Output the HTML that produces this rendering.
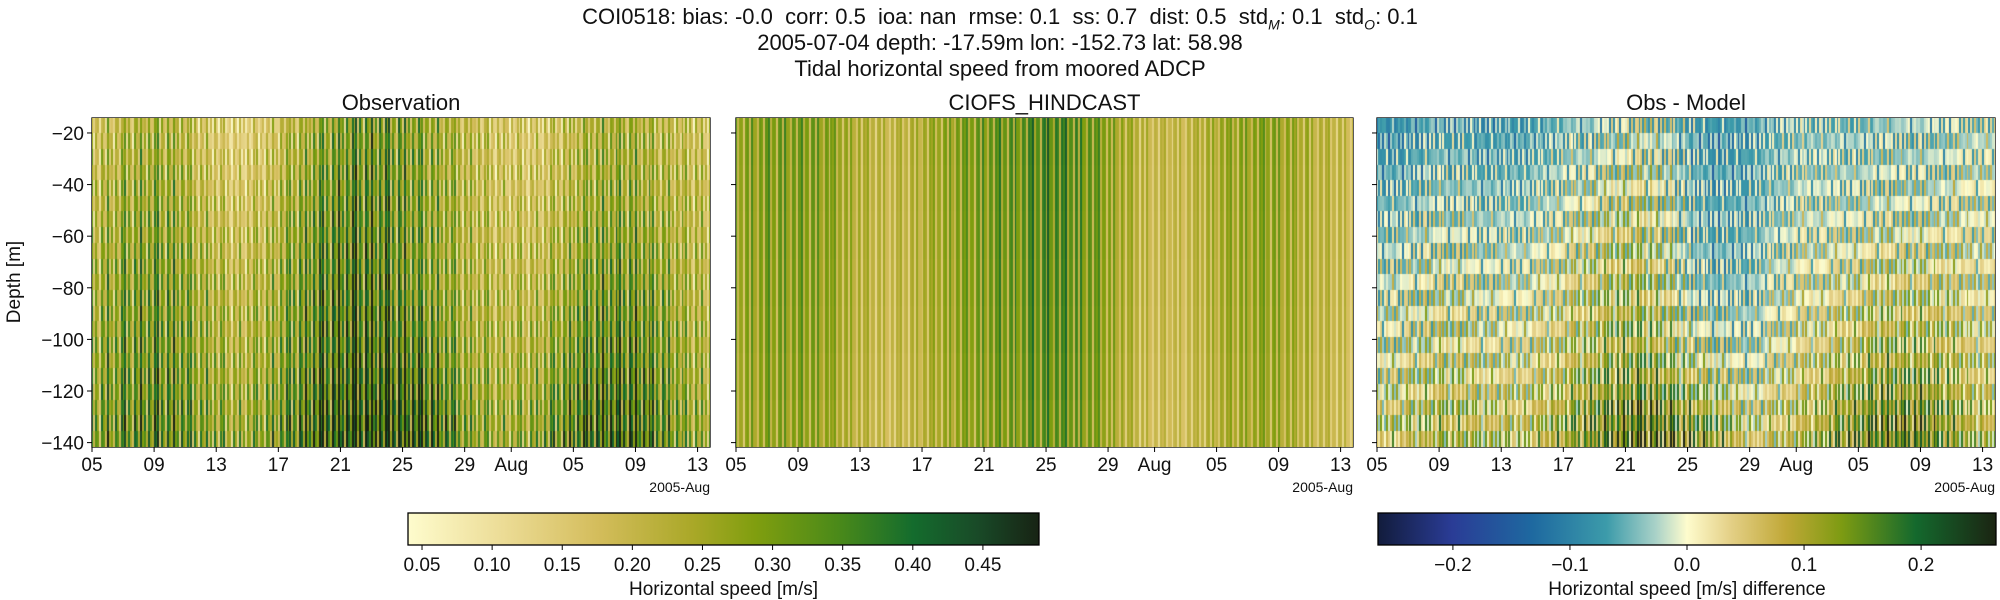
<!DOCTYPE html>
<html><head><meta charset="utf-8">
<style>
body{margin:0;background:#fff;width:2000px;height:600px;overflow:hidden;font-family:"Liberation Sans","DejaVu Sans",sans-serif;}
#root{position:relative;width:2000px;height:600px;}
.t{position:absolute;white-space:nowrap;color:#111;}
canvas{position:absolute;}
</style></head>
<body>
<div id="root">
<div class="t" style="left:0;width:2000px;text-align:center;top:4px;font-size:22px;">COI0518: bias: -0.0&nbsp; corr: 0.5&nbsp; ioa: nan&nbsp; rmse: 0.1&nbsp; ss: 0.7&nbsp; dist: 0.5&nbsp; std<sub style="font-size:14px;font-style:italic">M</sub>: 0.1&nbsp; std<sub style="font-size:14px;font-style:italic">O</sub>: 0.1</div>
<div class="t" style="left:0;width:2000px;text-align:center;top:30px;font-size:22px;">2005-07-04 depth: -17.59m lon: -152.73 lat: 58.98</div>
<div class="t" style="left:0;width:2000px;text-align:center;top:56px;font-size:22px;">Tidal horizontal speed from moored ADCP</div>
<svg id="axes" width="2000" height="600" style="position:absolute;left:0;top:0"></svg>
</div>
<script>
// ---- data (daily values, Jul 05 .. Aug 13, 2005) ----
const days = ["Jul 05","Jul 06","Jul 07","Jul 08","Jul 09","Jul 10","Jul 11","Jul 12","Jul 13","Jul 14","Jul 15","Jul 16","Jul 17","Jul 18","Jul 19","Jul 20","Jul 21","Jul 22","Jul 23","Jul 24","Jul 25","Jul 26","Jul 27","Jul 28","Jul 29","Jul 30","Jul 31","Aug 01","Aug 02","Aug 03","Aug 04","Aug 05","Aug 06","Aug 07","Aug 08","Aug 09","Aug 10","Aug 11","Aug 12","Aug 13"];
const modelSpeed = [0.25,0.26,0.27,0.27,0.27,0.26,0.24,0.22,0.2,0.19,0.19,0.2,0.22,0.24,0.26,0.27,0.28,0.29,0.3,0.31,0.32,0.31,0.29,0.27,0.24,0.21,0.19,0.18,0.18,0.19,0.21,0.23,0.24,0.25,0.25,0.24,0.22,0.2,0.19,0.18];
const obsTop = [0.18,0.19,0.21,0.22,0.22,0.21,0.18,0.16,0.14,0.13,0.14,0.16,0.19,0.21,0.24,0.26,0.28,0.29,0.29,0.28,0.27,0.25,0.23,0.21,0.19,0.17,0.16,0.15,0.15,0.16,0.18,0.2,0.22,0.23,0.23,0.22,0.2,0.19,0.18,0.17];
const obsUpper = [0.21,0.22,0.24,0.25,0.25,0.24,0.21,0.19,0.17,0.16,0.17,0.19,0.22,0.25,0.28,0.3,0.31,0.32,0.31,0.3,0.28,0.26,0.24,0.22,0.2,0.18,0.17,0.17,0.17,0.18,0.2,0.22,0.24,0.25,0.25,0.24,0.22,0.21,0.2,0.19];
const obsMid = [0.24,0.25,0.27,0.28,0.28,0.27,0.24,0.22,0.2,0.19,0.2,0.22,0.25,0.28,0.31,0.33,0.34,0.34,0.33,0.31,0.29,0.27,0.25,0.23,0.21,0.2,0.19,0.19,0.19,0.21,0.23,0.26,0.28,0.29,0.29,0.28,0.26,0.23,0.21,0.2];
const obsLower = [0.26,0.27,0.29,0.3,0.3,0.29,0.26,0.24,0.22,0.21,0.22,0.24,0.27,0.3,0.33,0.35,0.36,0.37,0.36,0.35,0.34,0.32,0.29,0.26,0.23,0.22,0.21,0.21,0.22,0.24,0.27,0.3,0.32,0.33,0.33,0.32,0.29,0.26,0.23,0.22];
const obsBottom = [0.29,0.3,0.32,0.33,0.33,0.32,0.29,0.27,0.25,0.24,0.25,0.28,0.31,0.35,0.38,0.41,0.43,0.44,0.44,0.43,0.42,0.4,0.36,0.31,0.27,0.25,0.24,0.24,0.26,0.29,0.32,0.35,0.38,0.39,0.39,0.37,0.33,0.29,0.26,0.24];
const modelDepthFactor = [1.04,1.03,1.02,1.01,1.0,0.98,0.96];
const obsTidalPhase = [1.45,0.6,1.2,0.9,0.5,1.35,1.05,0.7,1.5,0.8,1.1,0.55,1.3,0.95,0.65,1.4,1.0];
const modelTidalPhase = [1.3,0.75,1.05,1.05,0.6,1.15,1.2,0.7,1.3,0.95,0.95,0.7,1.15,1.1,0.65,1.2,1.1];
const xTickLabels = ["05","09","13","17","21","25","29","Aug","05","09","13"];
const xTickDays = [0,4,8,12,16,20,24,27,31,35,39];
const yTickLabels = [-20,-40,-60,-80,-100,-120,-140];
const speedTicks = [0.05,0.10,0.15,0.20,0.25,0.30,0.35,0.40,0.45];
const diffTicks = [-0.2,-0.1,0.0,0.1,0.2];

// ---- layout ----
const panels = [{x0:92,x1:710,title:"Observation",name:"observation"},{x0:736,x1:1353,title:"CIOFS_HINDCAST",name:"ciofs-hindcast"},{x0:1377,x1:1995,title:"Obs - Model",name:"obs-minus-model"}];
const Y0=118,Y1=447, D0=-14.2, D1=-141.7, NROWS=21, NDAYS=39.8;
const ySc = d => Y0 + (D0-d)/(D0-D1)*(Y1-Y0);
const xSc = (p,day) => p.x0 + day/NDAYS*(p.x1-p.x0);

function lerpStops(stops,t){t=Math.max(0,Math.min(1,t));for(let i=1;i<stops.length;i++){if(t<=stops[i][0]){const a=stops[i-1],b=stops[i];const f=(t-a[0])/(b[0]-a[0]);const c1=a[1],c2=b[1];return `rgb(${Math.round(c1[0]+(c2[0]-c1[0])*f)},${Math.round(c1[1]+(c2[1]-c1[1])*f)},${Math.round(c1[2]+(c2[2]-c1[2])*f)})`;}}return 'rgb(0,0,0)';}
const speedStops=[[0,[254,252,205]],[0.15,[236,220,150]],[0.3,[212,189,92]],[0.45,[170,168,40]],[0.55,[128,158,15]],[0.68,[75,138,25]],[0.8,[20,108,45]],[0.9,[25,75,40]],[1,[23,35,20]]];
const deltaStops=[[0,[18,28,60]],[0.12,[42,60,150]],[0.25,[30,105,160]],[0.37,[60,155,170]],[0.45,[170,210,200]],[0.5,[254,252,205]],[0.57,[228,208,135]],[0.66,[192,168,55]],[0.75,[125,155,18]],[0.87,[20,105,45]],[1,[27,36,18]]];
const SMIN=0.04,SMAX=0.49,DLIM=0.264;
const speedColor=v=>lerpStops(speedStops,(v-SMIN)/(SMAX-SMIN));
const diffColor=v=>lerpStops(deltaStops,(v+DLIM)/(2*DLIM));

const obsBands=[obsTop,obsUpper,obsMid,obsLower,obsBottom];
const SUB=8;
function obsVal(row,day,k){
  const pos=row*4/(NROWS-1);const b=Math.min(3,Math.floor(pos));const f=pos-b;
  const base=obsBands[b][day]*(1-f)+obsBands[b+1][day]*f;
  const g=day*SUB+k;
  const ph=obsTidalPhase[g%obsTidalPhase.length];
  const r=(((row*7+g*3)%5)-2)*0.022;
  return base*ph+r;}
function modVal(row,day,k){const f=modelDepthFactor[Math.min(6,Math.floor(row*7/NROWS))];const g=day*SUB+k;return modelSpeed[day]*f*modelTidalPhase[g%modelTidalPhase.length];}

const root=document.getElementById('root');
panels.forEach((p,pi)=>{
  const cv=document.createElement('canvas');
  
  
  cv.width=p.x1-p.x0;cv.height=Y1-Y0;cv.style.left=p.x0+'px';cv.style.top=Y0+'px';
  const ctx=cv.getContext('2d');
  for(let d=0;d<days.length;d++){
    for(let k=0;k<SUB;k++){
      const dayF=d+k/SUB; const xa=xSc(p,dayF)-p.x0, xb=xSc(p,dayF+1/SUB)-p.x0;
      for(let r=0;r<NROWS;r++){
        const dep0=D0-r*(D0-D1)/NROWS, dep1=D0-(r+1)*(D0-D1)/NROWS;
        let c;
        if(pi===0)c=speedColor(obsVal(r,d,k));
        else if(pi===1)c=speedColor(modVal(r,d,k));
        else c=diffColor(obsVal(r,d,k)-modVal(r,d,k));
        ctx.fillStyle=c;
        ctx.fillRect(Math.floor(xa),Math.floor(ySc(dep0)-Y0),Math.ceil(xb-xa)+1,Math.ceil(ySc(dep1)-ySc(dep0))+1);
      }
    }
  }
  root.appendChild(cv);
});

// ---- axes SVG ----
const svg=document.getElementById('axes');const NS='http://www.w3.org/2000/svg';
function mk(tag,attrs,parent){const e=document.createElementNS(NS,tag);for(const k in attrs)e.setAttribute(k,attrs[k]);(parent||svg).appendChild(e);return e;}
panels.forEach((p,pi)=>{
  const g=mk('g',{});
  
  
  const fr=mk('rect',{x:p.x0,y:Y0,width:p.x1-p.x0,height:Y1-Y0,fill:'none',stroke:'#000','stroke-width':1.3},g);
  
  
  const tt=mk('text',{x:(p.x0+p.x1)/2,y:110,'text-anchor':'middle','font-size':22,fill:'#111'},g);tt.textContent=p.title;
  
  
  xTickLabels.forEach((lab,i)=>{const x=xSc(p,xTickDays[i]);mk('line',{x1:x,x2:x,y1:Y1,y2:Y1+5,stroke:'#000'},g);
    const t=mk('text',{x:x,y:Y1+24,'text-anchor':'middle','font-size':19,fill:'#111'},g);t.textContent=lab;
    
    });
  const ot=mk('text',{x:p.x1,y:Y1+45,'text-anchor':'end','font-size':14,fill:'#111'},g);ot.textContent='2005-Aug';
  
  
  yTickLabels.forEach(v=>{const y=ySc(v);mk('line',{x1:p.x0-5,x2:p.x0,y1:y,y2:y,stroke:'#000'},g);
    if(pi===0){const t=mk('text',{x:p.x0-8,y:y+7,'text-anchor':'end','font-size':19,fill:'#111'},g);t.textContent='\u2212'+Math.abs(v);
    
    }});
});
const yl=mk('text',{x:0,y:0,transform:'translate(20,282) rotate(-90)','text-anchor':'middle','font-size':19,fill:'#111'});yl.textContent='Depth [m]';



// colorbars
function colorbar(x0,x1,stops,vmin,vmax,ticks,fmt,label,name){
  const y0=513,y1=545;const id='g'+name;
  const defs=mk('defs',{});const lg=mk('linearGradient',{id:id,x1:0,x2:1,y1:0,y2:0},defs);
  stops.forEach(s=>mk('stop',{offset:s[0],'stop-color':`rgb(${s[1].join(',')})`},lg));
  const r=mk('rect',{x:x0,y:y0,width:x1-x0,height:y1-y0,fill:`url(#${id})`,stroke:'#000','stroke-width':1.3});
  
  
  ticks.forEach(v=>{const x=x0+(v-vmin)/(vmax-vmin)*(x1-x0);mk('line',{x1:x,x2:x,y1:y1,y2:y1+5,stroke:'#000'});
    const t=mk('text',{x:x,y:y1+26,'text-anchor':'middle','font-size':19,fill:'#111'});t.textContent=fmt(v);
    
    });
  const l=mk('text',{x:(x0+x1)/2,y:y1+50,'text-anchor':'middle','font-size':19,fill:'#111'});l.textContent=label;
  
  
}
colorbar(408,1039,speedStops,SMIN,SMAX,speedTicks,v=>v.toFixed(2),'Horizontal speed [m/s]','speed-colorbar');
colorbar(1378,1996,deltaStops,-DLIM,DLIM,diffTicks,v=>(v<0?'\u2212':'')+Math.abs(v).toFixed(1),'Horizontal speed [m/s] difference','difference-colorbar');
</script>
</body></html>
